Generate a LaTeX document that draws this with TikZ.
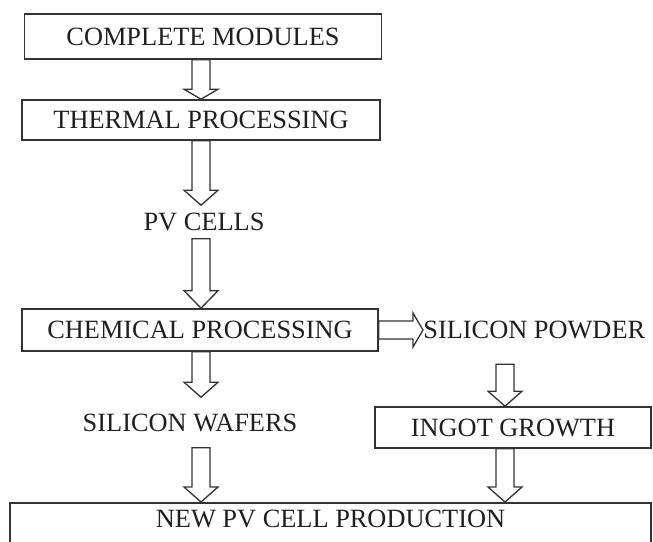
\documentclass[tikz,border=0pt]{standalone}
\usepackage{fontspec}
\setmainfont{Liberation Serif}
\usetikzlibrary{calc}
\definecolor{LineClr}{rgb}{0.2,0.2,0.2}
\definecolor{TextClr}{rgb}{0.12,0.12,0.12}

\tikzset{
  StepBox/.style={draw=LineClr,line width=0.9pt,text=TextClr,inner sep=0pt},
  StepText/.style={text=TextClr,inner xsep=0.1cm},
  ArrowLine/.style={draw=LineClr,line width=0.75pt,line join=miter,fill=white}
}

% hollow block arrow from #2 to #3, #1 = head length
\newcommand{\DrawBlockArrow}[3][0.3cm]{%
  \path (#2) coordinate (tail) (#3) coordinate (tip);
  \path ($(tip)!#1!(tail)$) coordinate (hb);
  \draw[ArrowLine] ($(tail)!0.18cm!90:(tip)$) -- ($(hb)!0.18cm!90:(tip)$)
    -- ($(hb)!0.34cm!90:(tip)$) -- (tip) -- ($(hb)!0.34cm!-90:(tip)$)
    -- ($(hb)!0.18cm!-90:(tip)$) -- ($(tail)!0.18cm!-90:(tip)$) -- cycle;}

\begin{document}
\begin{tikzpicture}[font=\fontsize{15}{18}\selectfont]
\useasboundingbox (0,0) rectangle (13.06,10.82);

\coordinate (lx) at (4.02,0);
\coordinate (rx) at (10.1,0);

\node[StepBox,minimum width=7.14cm,minimum height=0.9cm] (M) at (4.06,10.09) {COMPLETE MODULES};
\node[StepBox,minimum width=7.16cm,minimum height=0.8cm] (T) at (4.02,8.42) {THERMAL PROCESSING};
\node[StepText,inner ysep=0.15cm] (P) at (4.08,6.38) {PV CELLS};
\node[StepBox,minimum width=7.12cm,minimum height=0.84cm] (C) at (4.0,4.22) {CHEMICAL PROCESSING};
\node[StepText,anchor=west,inner xsep=0pt,inner ysep=0.5cm] (S) at (8.46,4.22) {SILICON POWDER};
\node[StepText,inner ysep=0.32cm] (W) at (3.8,2.37) {SILICON WAFERS};
\node[StepBox,minimum width=5.52cm,minimum height=0.82cm] (I) at (10.26,2.27) {INGOT GROWTH};
\node[StepBox,anchor=north,minimum width=12.82cm,inner ysep=0.145cm,text depth=0.5cm] (N) at (6.61,0.78) {NEW PV CELL PRODUCTION};

\DrawBlockArrow[0.2cm]{M.south -| lx}{T.north -| lx}
\DrawBlockArrow{T.south -| lx}{P.north -| lx}
\DrawBlockArrow[0.35cm]{P.south -| lx}{C.north -| lx}
\DrawBlockArrow{C.south -| lx}{W.north -| lx}
\DrawBlockArrow{W.south -| lx}{N.north -| lx}
\DrawBlockArrow[0.2cm]{C.east}{S.west}
\DrawBlockArrow{S.south -| rx}{I.north -| rx}
\DrawBlockArrow{I.south -| rx}{N.north -| rx}

\end{tikzpicture}
\end{document}
